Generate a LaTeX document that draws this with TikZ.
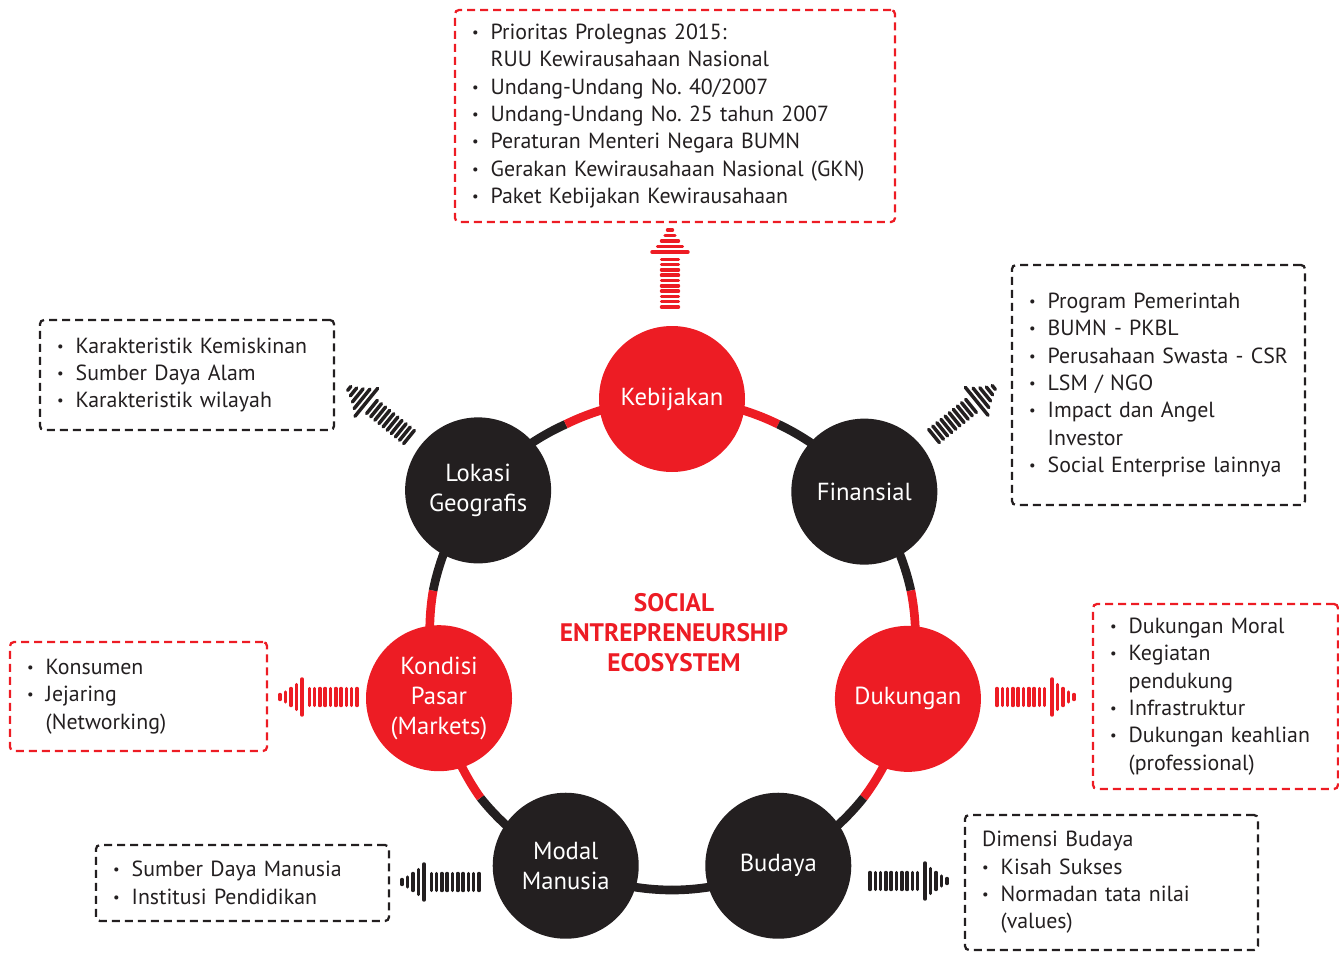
\documentclass[tikz,border=0pt]{standalone}
\usepackage{fontspec}
\setmainfont{PT Sans}
\frenchspacing
\usetikzlibrary{calc, backgrounds, decorations.markings}

\definecolor{accent}{RGB}{237,28,36}
\definecolor{ink}{RGB}{35,31,32}

\newcommand{\bul}{\makebox[14pt][l]{\raisebox{1.6pt}{\fontsize{11pt}{11pt}\selectfont\textbullet}}}
\newcommand{\ind}{\makebox[14pt]{}}

\tikzset{
	hub/.style={circle, fill=#1, text=white, minimum size=109.5pt, inner sep=0pt, align=center, font=\fontsize{18.5pt}{22.5pt}\selectfont},
	infobox/.style={draw=#1, dash pattern=on 6pt off 3.75pt, line width=1.7pt, rounded corners=3pt, text=ink, align=left, inner xsep=12.75pt, inner ysep=4pt, font=\fontsize{16.4pt}{20.5pt}\selectfont},
	ring/.style={draw=#1, line width=6.5pt, bend left=12.86, looseness=0.85},
	wave/.style={decorate, decoration={markings, mark=at position 0 with {
		\foreach \s/\h in {0/8.5, 5.3/8.5, 10.6/8.5, 15.9/8.5, 21.2/8.5, 26.5/8.5, 31.8/8.5, 37.1/8.5, 42.4/8.5, 47.7/8.5, 55/18, 60.5/12.5, 66/8.5, 71.5/5, 77/2.5}
			\draw[#1, line width=2.6pt, line cap=round] (\s,-\h) -- (\s,\h);
	}}}
}

\begin{document}
\begin{tikzpicture}[x=0.75pt, y=-0.75pt]
	\useasboundingbox (0,0) rectangle (1339,953);
	\coordinate (c) at (672,645);

	% ring
	\node[hub=accent] (keb) at ($(c)+(-90:246)$) {Kebijakan};
	\node[hub=ink] (fin) at ($(c)+(-38.57:246)$) {Finansial};
	\node[hub=accent] (duk) at ($(c)+(12.86:242)$) {Dukungan};
	\node[hub=ink] (bud) at ($(c)+(64.29:245)$) {Budaya};
	\node[hub=ink] (mod) at ($(c)+(115.71:245)$) {Modal\\Manusia};
	\node[hub=accent] (kon) at ($(c)+(167.14:239)$) {Kondisi\\Pasar\\(Markets)};
	\node[hub=ink] (lok) at ($(c)+(218.57:248)$) {Lokasi\\Geografis};

	\coordinate (m1) at ($(c)+(-64.29:245)$);
	\coordinate (m2) at ($(c)+(-12.86:245)$);
	\coordinate (m3) at ($(c)+(38.57:245)$);
	\coordinate (m4) at ($(c)+(90:245)$);
	\coordinate (m5) at ($(c)+(141.43:245)$);
	\coordinate (m6) at ($(c)+(192.86:245)$);
	\coordinate (m7) at ($(c)+(244.29:245)$);

	\begin{scope}[on background layer]
	\draw
		(keb.center) edge[ring=accent] (m1)
		(m1) edge[ring=ink] (fin.center)
		(fin.center) edge[ring=ink] (m2)
		(m2) edge[ring=accent] (duk.center)
		(duk.center) edge[ring=accent] (m3)
		(m3) edge[ring=ink] (bud.center)
		(bud.center) edge[ring=ink] (m4)
		(m4) edge[ring=ink] (mod.center)
		(mod.center) edge[ring=ink] (m5)
		(m5) edge[ring=accent] (kon.center)
		(kon.center) edge[ring=accent] (m6)
		(m6) edge[ring=ink] (lok.center)
		(lok.center) edge[ring=ink] (m7)
		(m7) edge[ring=accent] (keb.center)
		;
	\end{scope}

	\node[text=accent, align=center, font=\bfseries\fontsize{19pt}{22.5pt}\selectfont] (title) at (674,633) {SOCIAL\\ENTREPRENEURSHIP\\ECOSYSTEM};

	% boxes
	\node[infobox=accent, text width=304.5pt, minimum height=159pt] (kebbox) at (675,116) {\bul Prioritas Prolegnas 2015:\\ \ind RUU Kewirausahaan Nasional\\ \bul Undang-Undang No. 40/2007\\ \bul Undang-Undang No. 25 tahun 2007\\ \bul Peraturan Menteri Negara BUMN\\ \bul Gerakan Kewirausahaan Nasional (GKN)\\ \bul Paket Kebijakan Kewirausahaan};
	\node[infobox=ink, text width=194.25pt, minimum height=180pt] (finbox) at (1158.5,385) {\bul Program Pemerintah\\ \bul BUMN - PKBL\\ \bul Perusahaan Swasta - CSR\\ \bul LSM / NGO\\ \bul Impact dan Angel\\ \ind Investor\\ \bul Social Enterprise lainnya};
	\node[infobox=accent, text width=158.25pt, minimum height=138.75pt] (dukbox) at (1215.5,696.5) {\bul Dukungan Moral\\ \bul Kegiatan\\ \ind pendukung\\ \bul Infrastruktur\\ \bul Dukungan keahlian\\ \ind (professional)};
	\node[infobox=ink, text width=194.25pt, minimum height=101.25pt] (budbox) at (1111.5,882.5) {Dimensi Budaya\\ \bul Kisah Sukses\\ \bul Normadan tata nilai\\ \ind (values)};
	\node[infobox=ink, text width=194.25pt, minimum height=57pt] (modbox) at (242.5,883) {\bul Sumber Daya Manusia\\ \bul Institusi Pendidikan};
	\node[infobox=accent, text width=167.25pt, minimum height=81.75pt] (konbox) at (138.5,696.5) {\bul Konsumen\\ \bul Jejaring\\ \ind (Networking)};
	\node[infobox=ink, text width=195pt, minimum height=82.5pt] (lokbox) at (187,375) {\bul Karakteristik Kemiskinan\\ \bul Sumber Daya Alam\\ \bul Karakteristik wilayah};

	% wave arrows
	\coordinate (kebtail) at (670,307);
	\coordinate (kebtip) at (670,230);
	\coordinate (fintail) at (934,436);
	\coordinate (fintip) at (998,384);
	\coordinate (duktail) at (997,697);
	\coordinate (duktip) at (1078,697);
	\coordinate (budtail) at (870,881);
	\coordinate (budtip) at (952,881);
	\coordinate (modtail) at (479,882);
	\coordinate (modtip) at (401,882);
	\coordinate (kontail) at (357,697);
	\coordinate (kontip) at (278,697);
	\coordinate (loktail) at (409,437);
	\coordinate (loktip) at (345,385);

	\path[wave=accent] (kebtail) -- (kebtip);
	\path[wave=ink] (fintail) -- (fintip);
	\path[wave=accent] (duktail) -- (duktip);
	\path[wave=ink] (budtail) -- (budtip);
	\path[wave=ink] (modtail) -- (modtip);
	\path[wave=accent] (kontail) -- (kontip);
	\path[wave=ink] (loktail) -- (loktip);
\end{tikzpicture}
\end{document}
